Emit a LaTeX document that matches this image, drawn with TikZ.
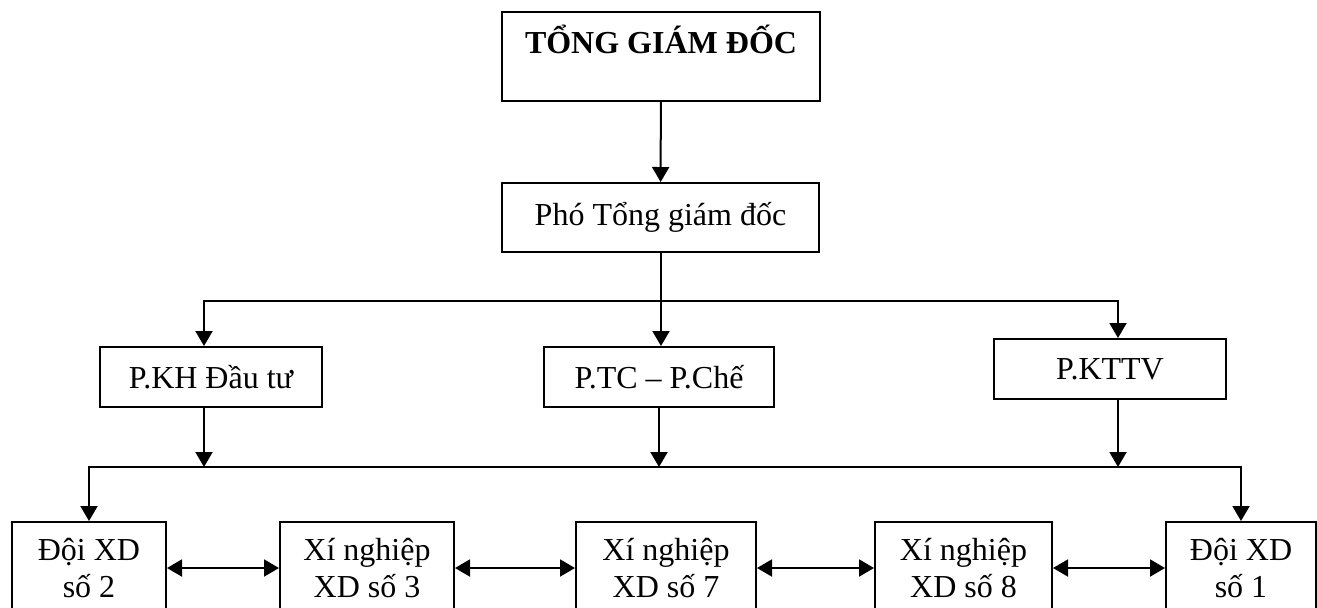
\documentclass[tikz,border=0pt]{standalone}
\usepackage{fontspec}
\setmainfont{Liberation Serif}
\usepackage{tikz}
\usetikzlibrary{arrows.meta}
\usetikzlibrary{positioning, calc}

\begin{document}
\begin{tikzpicture}[
			x=0.5pt, y=-0.5pt,
			unit/.style  = {rectangle, draw, line width=1pt, inner sep=0pt, align=center,
					font=\fontsize{16}{18.4}\selectfont},
			team/.style  = {unit, minimum height=46pt},
			link/.style  = {-{Triangle[length=7.5pt,width=8.5pt]}, line width=1pt},
			both/.style  = {{Triangle[length=7.5pt,width=8.5pt]}-{Triangle[length=7.5pt,width=8.5pt]}, line width=1pt},
			plain/.style = {line width=1pt}
			]
			\useasboundingbox (0,0) rectangle (1317,607);
			\clip (0,0) rectangle (1317,607);

			% top
			\node[unit, minimum width=159pt, text height=20.5pt, text depth=24pt] (tgd) at (661,56.5) {\textbf{TỔNG GIÁM ĐỐC}};
			\node[unit, minimum width=158.5pt, minimum height=34.5pt] (pho) at (660.5,217.5) {Phó Tổng giám đốc};

			% departments
			\node[unit, minimum width=111pt, minimum height=30pt] (pkh)   at (211,377)  {P.KH Đầu tư};
			\node[unit, minimum width=115pt, minimum height=30pt] (ptc)   at (659,377)  {P.TC – P.Chế};
			\node[unit, minimum width=116pt, minimum height=30pt] (pkttv) at (1110,369) {P.KTTV};

			% teams
			\node[team, minimum width=77pt]   (d2) at (89,568)    {Đội XD\\số 2};
			\node[team, minimum width=87pt]   (x3) at (367,568)   {Xí nghiệp\\XD số 3};
			\node[team, minimum width=90pt]   (x7) at (666,568)   {Xí nghiệp\\XD số 7};
			\node[team, minimum width=88.5pt] (x8) at (963.5,568) {Xí nghiệp\\XD số 8};
			\node[team, minimum width=75pt]   (d1) at (1241,568)  {Đội XD\\số 1};

			% junctions
			\coordinate (up)  at (661,301);
			\coordinate (low) at (658,467);

			% arrows
			\draw[link] (tgd) -- (pho);
			\draw[plain] (pho.south -| up) -- (up);
			\draw[link] (up) -| ([xshift=-3.5pt]pkh.north);
			\draw[link] (up) -- (ptc.north -| up);
			\draw[link] (up) -| ([xshift=4pt]pkttv.north);

			\draw[link] ([xshift=-3.5pt]pkh.south) -- ([xshift=-3.5pt]pkh.south |- low);
			\draw[link] (ptc) -- (ptc |- low);
			\draw[link] ([xshift=4pt]pkttv.south) -- ([xshift=4pt]pkttv.south |- low);

			\draw[link] (low) -| (d2);
			\draw[link] (low) -| (d1);

			\foreach \u/\v in {d2/x3, x3/x7, x7/x8, x8/d1}
			\draw[both] (\u) -- (\v);
		\end{tikzpicture}
\end{document}
